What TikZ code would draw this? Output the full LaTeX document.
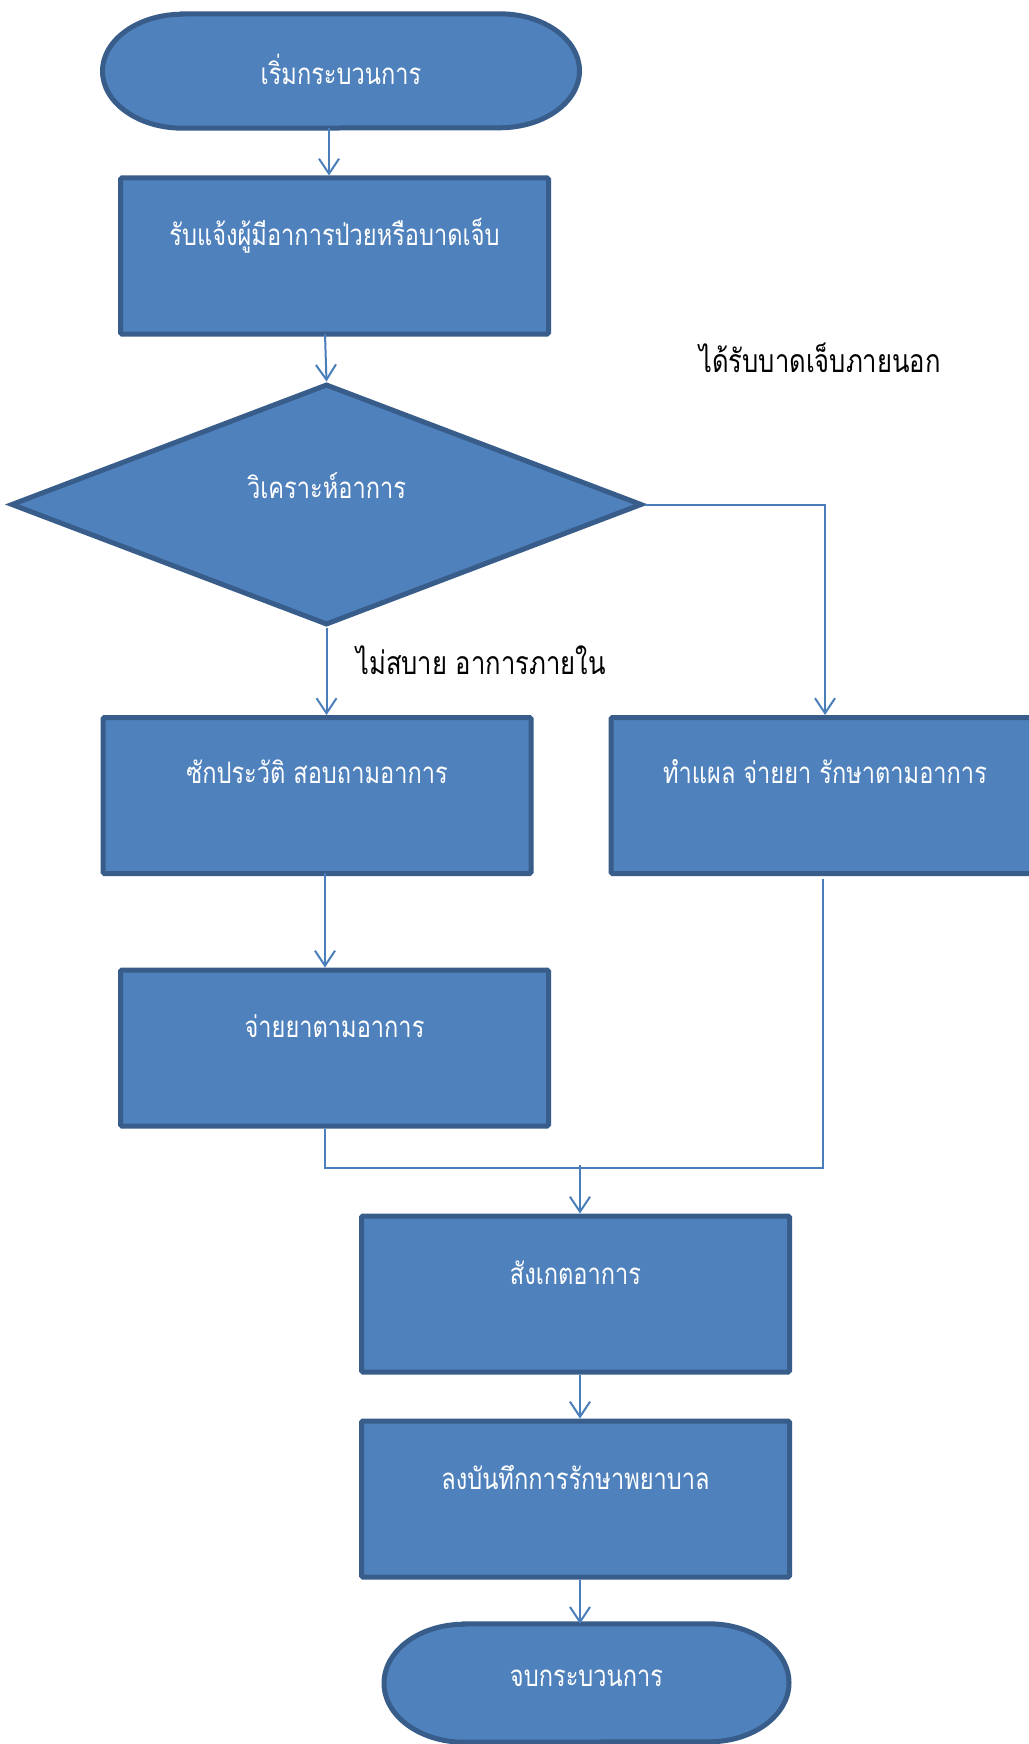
\documentclass[tikz,border=0pt]{standalone}
\usepackage{fontspec}
\newfontfamily\thai[Script=Thai,FakeStretch=0.8]{Loma}
\usetikzlibrary{arrows.meta,backgrounds,shapes.geometric}
\definecolor{fillblue}{HTML}{4F81BD}
\definecolor{edgeblue}{HTML}{385D8A}
\definecolor{lineblue}{HTML}{4A7EBB}
\tikzset{
  box/.style={draw=edgeblue, fill=fillblue, line width=5pt, rectangle, rounded corners=1.5pt, minimum width=428pt, minimum height=156pt, inner sep=0pt},
  dia/.style={draw=edgeblue, fill=fillblue, line width=5pt, diamond, minimum width=631pt, minimum height=241pt, inner sep=0pt},
  termnode/.style={rectangle, inner sep=0pt},
  term/.style={draw=edgeblue, fill=fillblue, line width=5pt},
  txt/.style={text=white, font=\thai\fontsize{29.5}{34}\selectfont, inner sep=0pt},
  lbl/.style={text=black, font=\thai\fontsize{32}{37}\selectfont, inner sep=0pt},
  conn/.style={draw=lineblue, line width=2pt},
  arr/.style={conn, -{Straight Barb[length=15pt,width=20pt]}}
}
\begin{document}
\begin{tikzpicture}[x=1pt,y=1pt]
\useasboundingbox (0,0) rectangle (1028,-1744);
% nodes
\node[termnode, minimum width=477pt, minimum height=114pt] (start) at (341,-71) {};
\node[box] (b1) at (334.5,-256) {};
\node[dia] (d) at (326.5,-504.5) {};
\node[box] (b2) at (317,-795.5) {};
\node[box] (b3) at (825,-795.5) {};
\node[box] (b4) at (334.5,-1048) {};
\node[box] (b5) at (575.5,-1294) {};
\node[box] (b6) at (575.5,-1499) {};
\node[termnode, minimum width=405pt, minimum height=118pt] (end) at (586.5,-1683) {};
\begin{pgfonlayer}{background}
\fill[white] (0,0) rectangle (1028,-1744);
\path[term] ([xshift=-158.5pt]start.north) -- ([xshift=158.5pt]start.north)
  arc[start angle=90, end angle=-90, x radius=80pt, y radius=57pt]
  -- ([xshift=-158.5pt]start.south)
  arc[start angle=270, end angle=90, x radius=80pt, y radius=57pt] -- cycle;
\path[term] ([xshift=-122.5pt]end.north) -- ([xshift=122.5pt]end.north)
  arc[start angle=90, end angle=-90, x radius=80pt, y radius=59pt]
  -- ([xshift=-122.5pt]end.south)
  arc[start angle=270, end angle=90, x radius=80pt, y radius=59pt] -- cycle;
\end{pgfonlayer}
% texts
\node[txt] (tstart) at ([yshift=2pt]start.center) {เริ่มกระบวนการ};
\node[txt] (t1) at ([yshift=-60pt]b1.north) {รับแจ้งผู้มีอาการป่วยหรือบาดเจ็บ};
\node[txt] (td) at ([yshift=19pt]d.center) {วิเคราะห์อาการ};
\node[txt] (t2) at ([yshift=-57pt]b2.north) {ซักประวัติ สอบถามอาการ};
\node[txt] (t3) at ([yshift=-57pt]b3.north) {ทำแผล จ่ายยา รักษาตามอาการ};
\node[txt] (t4) at ([yshift=-59pt]b4.north) {จ่ายยาตามอาการ};
\node[txt] (t5) at ([yshift=-59pt]b5.north) {สังเกตอาการ};
\node[txt] (t6) at ([yshift=-59pt]b6.north) {ลงบันทึกการรักษาพยาบาล};
\node[txt] (tend) at ([yshift=5pt]end.center) {จบกระบวนการ};
\node[lbl] (lout) at (820,-358) {ได้รับบาดเจ็บภายนอก};
\node[lbl] (lin) at (481,-660) {ไม่สบาย อาการภายใน};
% connectors
\coordinate (a0) at (329,-128);
\draw[arr] (a0) -- (a0 |- b1.north);
\coordinate (a1) at (325,-334);
\draw[arr] (a1) -- (d.north);
\draw[arr] (d.south) -- (d.south |- b2.north);
\draw[arr] (d.east) -| (b3.north);
\coordinate (a2) at (325,-873);
\draw[arr] (a2) -- (a2 |- b4.north);
\coordinate (jl) at (325,-1168);
\coordinate (jr) at (823,-1168);
\coordinate (jtop) at (823,-879);
\coordinate (j) at (580,-1165);
\draw[conn] (jl |- b4.south) -- (jl) -- (jr) -- (jtop);
\draw[arr] (j) -- (j |- b5.north);
\draw[arr] (j |- b5.south) -- (j |- b6.north);
\draw[arr] (j |- b6.south) -- (j |- end.north);
\end{tikzpicture}
\end{document}
